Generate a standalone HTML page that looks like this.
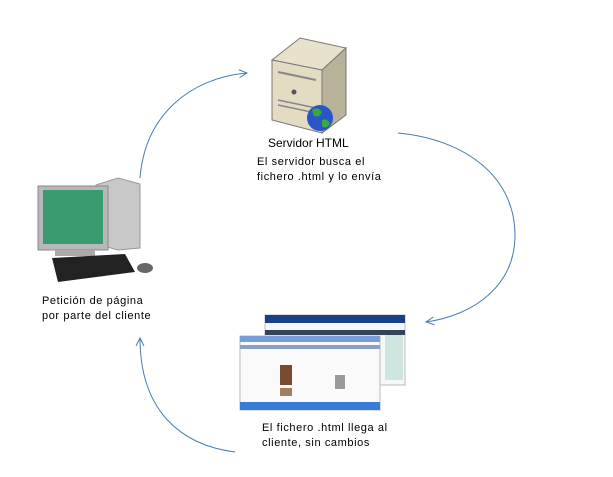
<!DOCTYPE html>
<html><head><meta charset="utf-8"><style>
body{margin:0;width:613px;height:477px;background:#fff;position:relative;overflow:hidden;font-family:"Liberation Sans",sans-serif;}
.t{position:absolute;font-size:11px;color:#000;letter-spacing:0.6px;line-height:15px;}
</style></head><body>
<svg width="613" height="477" style="position:absolute;left:0;top:0">
<defs><marker id="a" markerWidth="10" markerHeight="10" refX="8" refY="5" orient="auto" markerUnits="userSpaceOnUse"><path d="M0,1 L8,5 L0,9" fill="none" stroke="#4a7cb8" stroke-width="1"/></marker></defs>
<g fill="none" stroke="#4a7cb8" stroke-width="1">
<path d="M140,178 C145,115 190,78 247,73" marker-end="url(#a)"/>
<path d="M398,133 C470,140 515,180 515,235 C515,285 475,315 426,322" marker-end="url(#a)"/>
<path d="M235,452 C180,445 140,410 140,338" marker-end="url(#a)"/>
</g>
<!-- server -->
<polygon points="272,60 300,38 346,48 322,70" fill="#e8e2cc" stroke="#777"/>
<polygon points="272,60 322,70 322,133 272,120" fill="#e3dcc3" stroke="#777"/>
<polygon points="322,70 346,48 346,115 322,133" fill="#b9b29a" stroke="#777"/>
<line x1="278" y1="72" x2="316" y2="80" stroke="#888" stroke-width="2"/>
<line x1="278" y1="100" x2="316" y2="108" stroke="#888" stroke-width="1.5"/>
<line x1="278" y1="105" x2="316" y2="113" stroke="#888" stroke-width="1.5"/>
<circle cx="294" cy="92" r="2.5" fill="#555"/>
<circle cx="320" cy="118" r="13" fill="#2a55c8"/>
<path d="M312,110 q6,-4 10,2 q-2,6 -8,4 z M322,120 q6,-2 8,4 q-4,6 -8,2z" fill="#3aa83a"/>
<!-- computer -->
<polygon points="96,185 118,178 140,184 140,248 118,250 96,244" fill="#c8c8c8" stroke="#999"/>
<rect x="38" y="186" width="70" height="64" fill="#b8b8b8" stroke="#888"/>
<rect x="43" y="190" width="60" height="54" fill="#3a9a70"/>
<rect x="55" y="250" width="40" height="6" fill="#aaa"/>
<polygon points="52,258 125,254 135,272 58,282" fill="#222"/>
<ellipse cx="145" cy="268" rx="8" ry="5" fill="#666"/>
<!-- screenshots -->
<rect x="265" y="315" width="140" height="70" fill="#f5f7fa" stroke="#bbb"/>
<rect x="265" y="315" width="140" height="8" fill="#1a3f8a"/>
<rect x="265" y="330" width="140" height="5" fill="#33445a"/>
<rect x="385" y="335" width="18" height="45" fill="#cfe6e0"/>
<rect x="240" y="336" width="140" height="74" fill="#fafafa" stroke="#bbb"/>
<rect x="240" y="336" width="140" height="6" fill="#7a9cd8"/>
<rect x="240" y="345" width="140" height="4" fill="#8aa0c8"/>
<rect x="240" y="402" width="140" height="8" fill="#3a7ad8"/>
<rect x="280" y="365" width="12" height="20" fill="#7a4a30"/>
<rect x="280" y="388" width="12" height="8" fill="#a08060"/>
<rect x="335" y="375" width="10" height="14" fill="#999"/>
</svg>
<div class="t" style="left:268px;top:136px;font-size:12px;letter-spacing:0">Servidor HTML</div>
<div class="t" style="left:257px;top:155px">El servidor busca el<br>fichero .html y lo envía</div>
<div class="t" style="left:42px;top:294px">Petición de página<br>por parte del cliente</div>
<div class="t" style="left:262px;top:421px">El fichero .html llega al<br>cliente, sin cambios</div>
</body></html>
